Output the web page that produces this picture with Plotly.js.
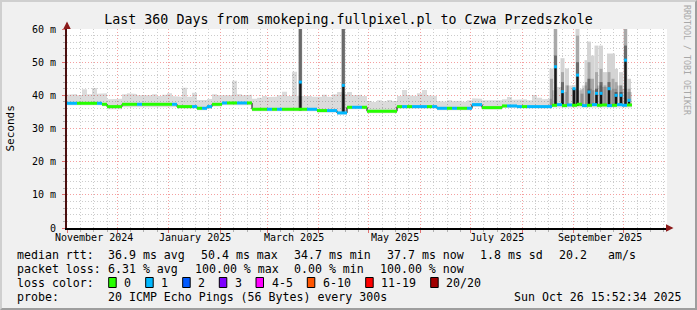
<!DOCTYPE html>
<html><head><meta charset="utf-8">
<script src="https://cdn.plot.ly/plotly-3.0.1.min.js"></script>
<style>
html,body{margin:0;padding:0;background:#f0f0f0;}
#wrap{position:relative;width:697px;height:310px;overflow:hidden;}
#chart{position:absolute;left:0;top:0;width:697px;height:310px;}
#frame{position:absolute;left:0;top:0;width:697px;height:310px;box-sizing:border-box;border-top:2px solid #cfcfcf;border-left:2px solid #cfcfcf;border-right:2px solid #9e9e9e;border-bottom:2px solid #9e9e9e;pointer-events:none;}
</style></head><body>
<div id="wrap"><div id="chart"></div><div id="frame"></div></div>
<script>
// ---------- data ----------
const binStartDate = '2024-11-01';
const binDays = 3;
const medianRtt = [
 37.6,37.6,37.6,37.6,37.6,37.6,37.6, 37.3, 36.6,36.6,36.6,
 37.3,37.3,37.3,37.3,37.3,37.3,37.3,37.3,37.3,37.3,37.3,
 36.6,36.6,36.6,36.6, 36.1,36.1, 36.6, 37.3,37.3,
 37.7,37.7,37.7,37.7,37.7,37.7,
 35.8,35.8,35.8,35.8,35.8,35.8,35.8,35.8,35.8,35.8,35.8,35.8,35.8,
 35.4,35.4,35.4,35.4, 34.7,34.7, 36.4,36.4,36.4,36.4,
 35.2,35.2,35.2,35.2,35.2,35.2,
 36.6,36.6,36.6,36.6,36.6,36.6,36.6,36.6,
 36.1,36.1,36.1,36.1,36.1,36.1,36.1, 37.2,37.2,
 36.3,36.3,36.3,36.3, 36.8,36.8,36.8,
 36.6,36.6,36.6,36.6,36.6,36.6,36.6,
 37.0,37.2,36.9,37.1,37.0,37.3,36.9,37.0,37.2,37.0,37.1,36.9,37.0,37.2,37.0,37.1
];
const lostPings = [
 1,1,0,0,0,0,1,0,0,0,0,0,0,0,1,0,0,0,0,0,0,1,0,0,0,1,0,1,1,0,
 0,1,0,0,1,1,0,0,0,0,1,0,1,0,0,0,0,0,1,1,0,0,1,1,1,1,0,1,1,0,
 0,0,0,0,0,0,0,1,0,1,1,1,0,1,1,1,0,1,0,0,1,1,1,0,0,0,0,0,1,1,
 1,0,1,1,1,1,1,0,1,0,1,0,0,1,0,1,0,0,1,0,1,1,0
];
const smokeTop = [
 40.2,40.4,40.0,41.8,40.3,42.2,40.5,40.6,38.8,38.8,39.0,40.3,40.6,40.4,40.0,40.2,40.0,40.3,39.8,40.2,
 40.6,39.8,39.6,42.3,39.6,40.8,38.6,38.6,38.9,40.3,40.0,40.2,40.0,44.4,40.3,40.0,40.2,
 39.0,39.3,39.8,39.5,39.6,40.0,41.1,39.8,47.1,39.8,40.0,39.8,39.6,
 39.6,40.2,39.6,40.3,41.0,40.5,41.0,40.0,40.2,39.8,
 38.3,38.0,38.5,38.2,38.6,38.3,
 39.8,41.6,40.0,39.8,40.6,41.6,40.0,39.8,
 38.3,38.1,38.5,38.2,38.4,38.1,38.5,39.1,39.0,
 38.5,38.4,38.6,38.5,38.8,39.5,38.7,
 38.6,38.8,38.5,40.1,39.3,38.8,39.0,
 41.5,42.5,41.0,43.0,42.0,41.5,43.0,42.0,41.5,43.0,42.5,41.5,42.0,43.0,42.0,41.0
];
const smokeBottom = [
 37.0,37.0,37.0,37.0,37.0,37.0,37.0, 36.7, 35.8,35.8,35.8,
 36.4,36.4,36.4,36.4,36.4,36.4,36.4,36.4,36.4,36.4,36.4,
 36.0,36.0,36.0,36.0, 35.5,35.5, 35.9, 36.6,36.6,
 37.0,37.0,37.0,37.0,37.0,37.0,
 35.2,35.2,35.2,35.2,35.2,35.2,35.2,35.2,35.2,35.2,35.2,35.2,35.2,
 34.8,34.8,34.8,34.8, 34.2,34.2, 35.8,35.8,35.8,35.8,
 34.6,34.6,34.6,34.6,34.6,34.6,
 36.0,36.0,36.0,36.0,36.0,36.0,36.0,36.0,
 35.5,35.5,35.5,35.5,35.5,35.5,35.5, 36.5,36.5,
 35.7,35.7,35.7,35.7, 36.2,36.2,36.2,
 36.0,36.0,36.0,36.0,36.0,36.0,36.0,
 36.3,36.3,36.3,36.3,36.3,36.3,36.3,36.3,36.3,36.3,36.3,36.3,36.3,36.3,36.3,36.3
];
const spikeTimes = ['2025-03-21 00:00','2025-04-15 19:00','2025-08-18 17:00','2025-08-21 02:00','2025-08-25 07:00',
 '2025-08-28 00:00','2025-09-01 05:00','2025-09-03 07:00','2025-09-06 00:00','2025-09-08 17:00','2025-09-10 05:00',
 '2025-09-12 07:00','2025-09-14 17:00','2025-09-17 10:00','2025-09-19 19:00','2025-09-22 05:00','2025-09-24 14:00',
 '2025-09-26 10:00','2025-09-29 10:00','2025-10-02 02:00','2025-10-04 05:00'];
const spikeBase  = [35.5,34.5,36.8,36.8,36.8,36.8,36.8,36.8,36.8,36.8,36.8,36.8,36.8,36.8,36.8,36.8,36.8,36.8,36.8,36.8,36.8];
const spikeLight = [62,62,48.1,62,51.2,48.1,43.1,62,42,50.6,56.2,52,55,55,47,52.6,52.6,48,47,62,45];
const spikeMid   = [62,62,45,60,47,43,42,58,40.5,44,50,45,47,48,43,47,45,44,43,60,42];
const spikeDark  = [62,62,null,52,44,null,42,50,null,null,45,null,42,44,null,44,null,41,41,55,null];
const spikeCore  = [44,43,null,48.6,41.1,null,42,46.1,null,null,41,null,40.6,40.6,null,42,null,40,40,50.6,38.5];

const monthStarts = ['2024-11-01','2024-12-01','2025-01-01','2025-02-01','2025-03-01','2025-04-01','2025-05-01',
 '2025-06-01','2025-07-01','2025-08-01','2025-09-01','2025-10-01'];
const monthLabels = ['November 2024','January 2025','March 2025','May 2025','July 2025','September 2025'];
const monthLabelDates = ['2024-11-17','2025-01-17','2025-03-17','2025-05-17','2025-07-17','2025-09-17'];
const yTickVals = [0,10,20,30,40,50,60];
const yTickText = ['0','10 m','20 m','30 m','40 m','50 m','60 m'];
const lossLegendLabels = ['0','1','2','3','4-5','6-10','11-19','20/20'];
const lossColors = ['#26ff00','#00b8ff','#0059ff','#7e00ff','#ff00ff','#ff5500','#ff0000','#a10000'];
const titleText = 'Last 360 Days from smokeping.fullpixel.pl to Czwa Przedszkole';
const statRow1 = [['median rtt:',16],['36.9 ms avg',107.3],['50.4 ms max',200],['34.7 ms min',293.3],['37.7 ms now',386],['1.8 ms sd',479.3],['20.2',558.3],['am/s',607.3]];
const statRow2 = [['packet loss:',16],['6.31 % avg',107.3],['100.00 % max',194],['0.00 % min',293.3],['100.00 % now',379.3]];
const probeRow = [['probe:',16],['20 ICMP Echo Pings (56 Bytes) every 300s',107.3],['Sun Oct 26 15:52:34 2025',513.3]];
const lossRowLabel = 'loss color:';
const lossBoxX = [108.7,145.7,182.7,219.3,256,307.3,365.7,430.7];

// ---------- helpers ----------
const DAY = 86400000;
const FONT = 'DejaVu Sans Mono';
const t0 = Date.parse(binStartDate + 'T00:00:00Z');
const fmt = ms => new Date(ms).toISOString().slice(0,19).replace('T',' ');
const PL = 67, PR = 667, PT = 29, PB = 228;
const px = x => (x - PL) / (PR - PL);
const py = y => (PB - y) / (PB - PT);

const binStart = medianRtt.map((_, i) => t0 + i * binDays * DAY);
const binEnd = binStart.map(s => s + binDays * DAY);

// smoke polygon
const smX = [], smY = [];
binStart.forEach((s, i) => { smX.push(fmt(s), fmt(binEnd[i])); smY.push(smokeTop[i], smokeTop[i]); });
for (let i = binStart.length - 1; i >= 0; i--) { smX.push(fmt(binEnd[i]), fmt(binStart[i])); smY.push(smokeBottom[i], smokeBottom[i]); }

const traces = [];
traces.push({type:'scatter', mode:'lines', x:smX, y:smY, fill:'toself', fillcolor:'rgba(0,0,0,0.14)', line:{width:0}, hoverinfo:'skip'});

function spikeBars(tops, color, wDays) {
  return {type:'bar', x:spikeTimes, base:spikeBase,
    y:tops.map((t, i) => t == null ? null : t - spikeBase[i]),
    width:spikeTimes.map(() => wDays * DAY), marker:{color:color, line:{width:0}}, hoverinfo:'skip'};
}
traces.push(spikeBars(spikeLight, '#d4d4d4', 2.4));
traces.push(spikeBars(spikeMid, '#a8a8a8', 1.8));
traces.push(spikeBars(spikeDark, '#6a6a6a', 1.8));
traces.push(spikeBars(spikeCore, '#1a1a1a', 1.2));

// black step connectors
const stX = binStart.map(fmt).concat([fmt(binEnd[binEnd.length-1])]);
const stY = medianRtt.concat([medianRtt[medianRtt.length-1]]);
traces.push({type:'scatter', mode:'lines', x:stX, y:stY, line:{shape:'hv', width:1, color:'#000'}, hoverinfo:'skip'});

// loss-coloured median segments
[0,1].forEach(c => {
  const x = [], y = [];
  medianRtt.forEach((m, i) => { if (lostPings[i] === c) { x.push(fmt(binStart[i]), fmt(binEnd[i]), null); y.push(m, m, null); } });
  traces.push({type:'scatter', mode:'lines', x:x, y:y, line:{width:3, color:lossColors[c]}, connectgaps:false, hoverinfo:'skip'});
});
traces.push({type:'scatter', mode:'markers', x:spikeTimes, y:spikeCore, marker:{symbol:'square', size:3, color:lossColors[1]}, hoverinfo:'skip'});

// ---------- layout ----------
const minorDates = [];
monthStarts.forEach(m => { const s = Date.parse(m + 'T00:00:00Z'); [8,16,24].forEach(d => minorDates.push(fmt(s + d * DAY))); });

const ann = [];
const txt = (s, x, y, size) => ({text:s, xref:'paper', yref:'paper', x:px(x), y:py(y), xanchor:'left', yanchor:'middle',
  showarrow:false, borderpad:0, font:{family:FONT, size:size || 11.6, color:'#000'}});
statRow1.forEach(([s, x]) => ann.push(txt(s, x, 254.5)));
statRow2.forEach(([s, x]) => ann.push(txt(s, x, 268.5)));
ann.push(txt(lossRowLabel, 16, 282.5));
probeRow.forEach(([s, x]) => ann.push(txt(s, x, 296.5)));
const shapes = [];
lossLegendLabels.forEach((l, i) => {
  ann.push(txt(l, lossBoxX[i] + 14.6, 282.5));
  shapes.push({type:'rect', xref:'paper', yref:'paper', x0:px(lossBoxX[i]), x1:px(lossBoxX[i] + 7.5), y0:py(287.5), y1:py(277.5),
    fillcolor:lossColors[i], line:{color:'#000', width:1}});
});
monthLabels.forEach((l, i) => ann.push({text:l, xref:'x', yref:'paper', x:monthLabelDates[i], y:0, yshift:-9.5,
  xanchor:'center', yanchor:'middle', showarrow:false, borderpad:0, font:{family:FONT, size:10, color:'#000'}}));
ann.push({text:'Seconds', xref:'paper', yref:'paper', x:px(10), y:0.5, textangle:-90, xanchor:'center', yanchor:'middle',
  showarrow:false, font:{family:FONT, size:11, color:'#000'}});
ann.push({text:'RRDTOOL / TOBI OETIKER', xref:'paper', yref:'paper', x:px(687), y:py(60), textangle:90, xanchor:'center', yanchor:'middle',
  showarrow:false, font:{family:FONT, size:8.3, color:'#a8a8a8'}});
// axis arrows
ann.push({text:'', xref:'paper', yref:'paper', x:px(67), y:py(21.5), ax:0, ay:8, showarrow:true, arrowhead:2, arrowsize:1, arrowwidth:1.5, arrowcolor:'#8b1a1a'});
ann.push({text:'', xref:'paper', yref:'paper', x:px(673.5), y:py(228), ax:-8, ay:0, showarrow:true, arrowhead:2, arrowsize:1, arrowwidth:1.5, arrowcolor:'#8b1a1a'});

const layout = {
  width:697, height:310,
  margin:{l:PL, r:697-PR, t:PT, b:310-PB, pad:0},
  paper_bgcolor:'#f0f0f0', plot_bgcolor:'#ffffff',
  showlegend:false, barmode:'overlay',
  title:{text:titleText, x:0.5, xref:'container', y:1 - 19/310, yref:'container', xanchor:'center', yanchor:'middle',
    font:{family:FONT, size:13.3, color:'#000'}},
  xaxis:{type:'date', range:[binStartDate, '2025-10-27'], tickmode:'array', tickvals:monthStarts, showticklabels:false,
    showgrid:true, gridcolor:'#f4a0a0', griddash:'1px,2px', gridwidth:1,
    ticks:'outside', ticklen:3, tickcolor:'#e07070', showline:true, linecolor:'#000', linewidth:2, zeroline:false,
    minor:{tickmode:'array', tickvals:minorDates, showgrid:true, gridcolor:'#cccccc', griddash:'1px,2px', ticks:'outside', ticklen:2, tickcolor:'#b0b0b0'},
    fixedrange:true},
  yaxis:{range:[0,60], tickmode:'array', tickvals:yTickVals, ticktext:yTickText,
    showgrid:true, gridcolor:'#f4a0a0', griddash:'1px,2px', gridwidth:1,
    ticks:'outside', ticklen:3, tickcolor:'#e07070', ticklabelstandoff:4,
    tickfont:{family:FONT, size:10, color:'#000'},
    showline:true, linecolor:'#4a1010', linewidth:2, zeroline:false,
    minor:{dtick:2, tick0:0, showgrid:true, gridcolor:'#cccccc', griddash:'1px,2px', ticks:'outside', ticklen:2, tickcolor:'#b0b0b0'},
    fixedrange:true},
  annotations:ann, shapes:shapes
};
Plotly.newPlot('chart', traces, layout, {displayModeBar:false, staticPlot:true});
</script></body></html>
